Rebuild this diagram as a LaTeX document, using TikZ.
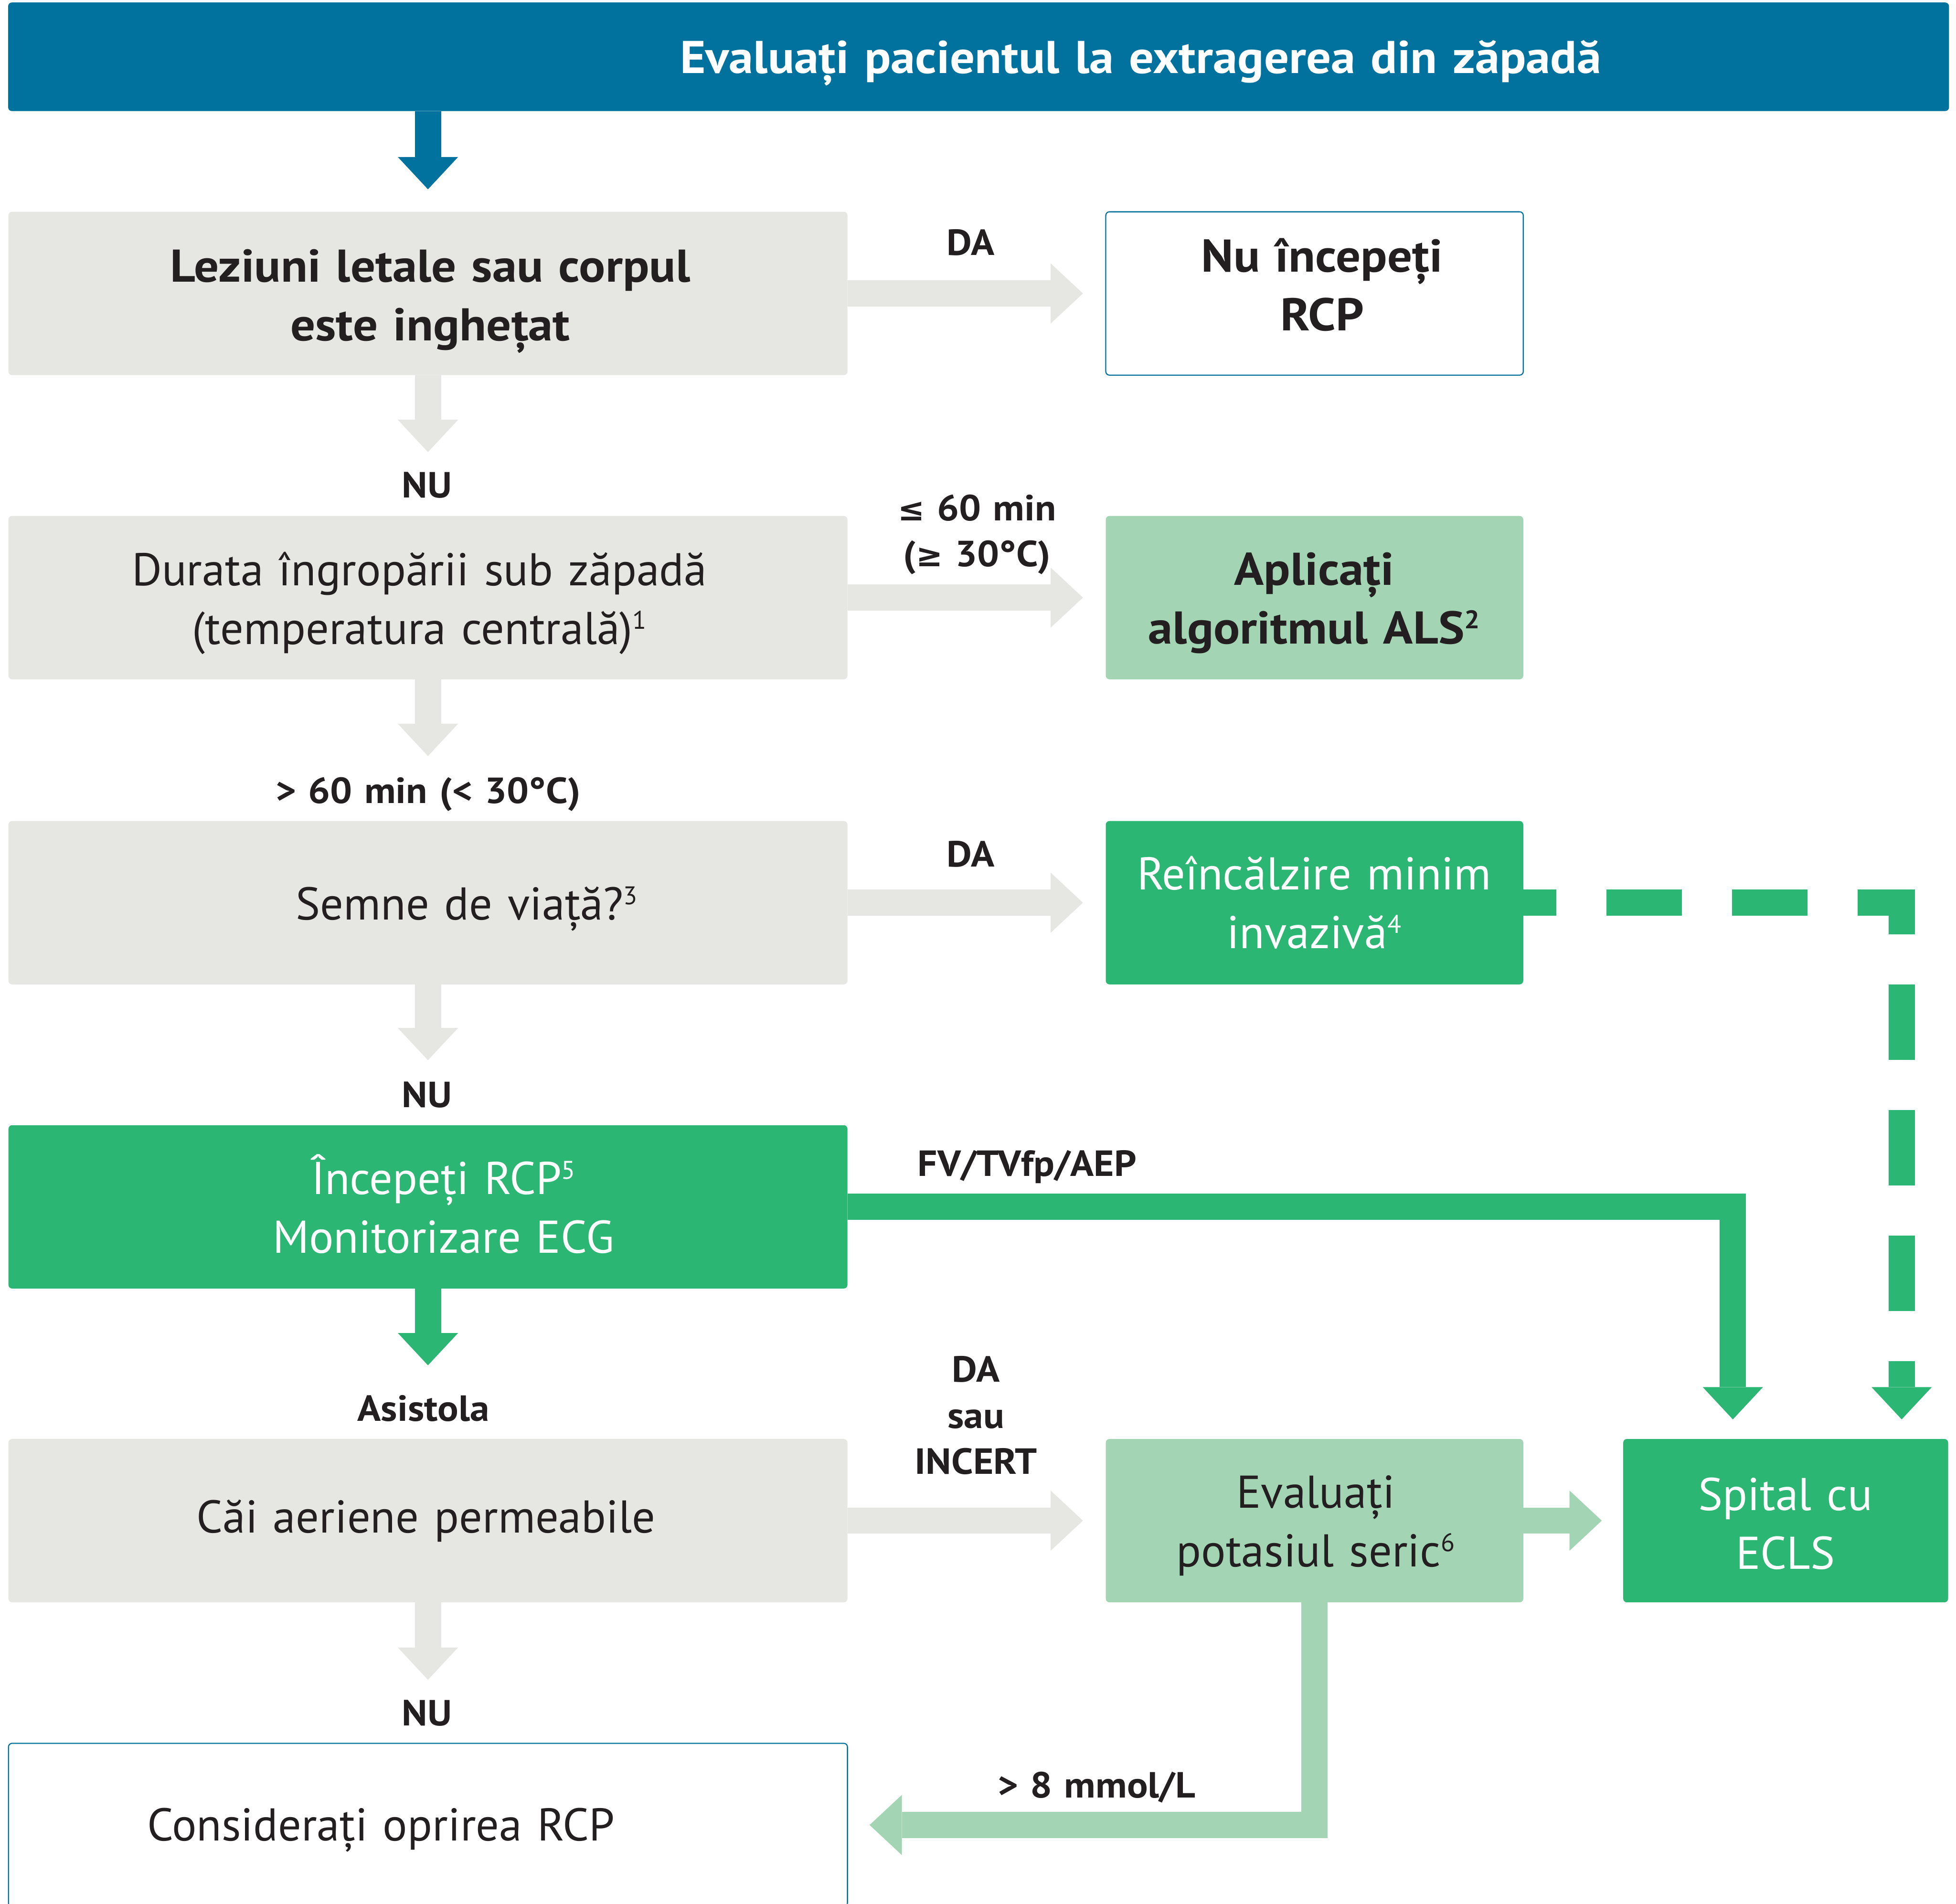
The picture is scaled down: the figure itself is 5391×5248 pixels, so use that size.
\documentclass[tikz,border=0pt]{standalone}
\usepackage{fontspec}
\setmainfont{PT Sans}[BoldFeatures={FakeStretch=1.07}]
\newfontfamily\relsym{DejaVu Sans}[Scale=0.88]
\usetikzlibrary{arrows.meta}
\definecolor{ercblue}{RGB}{0,114,157}
\definecolor{boxgray}{RGB}{230,231,226}
\definecolor{palegreen}{RGB}{163,212,180}
\definecolor{deepgreen}{RGB}{44,182,115}
\definecolor{ink}{RGB}{35,31,32}
% raised footnote numbers inside the boxes
\newcommand{\supnr}[1]{\raisebox{12pt}{\fontsize{20}{20}\selectfont #1}}
% relation signs with a straight bar
\newcommand{\lesym}{{\relsym ≤}}
\newcommand{\gesym}{{\relsym ≥}}

\begin{document}
\begin{tikzpicture}[x=0.01cm, y=-0.01cm,
  box/.style={rectangle, inner sep=0pt, outer sep=0pt, rounded corners=0.1cm, minimum height=4.5cm},
  wide/.style={box, minimum width=23.11cm},
  mid/.style={box, minimum width=11.5cm},
  txt/.style={text width=24cm, align=center, anchor=base, inner sep=0pt,
              font=\fontsize{36}{46}\selectfont, text=ink},
  btxt/.style={txt, font=\bfseries\fontsize{36}{46}\selectfont},
  lbl/.style={txt, text width=12cm, font=\bfseries\fontsize{28.5}{36}\selectfont},
  fat/.style={line width=0.72cm, -{Triangle[length=0.89cm, width=1.66cm, line width=0pt]}},
]
\clip (0,0) rectangle (5391,5248);
\fill[white] (0,0) rectangle (5391,5248);

% header
\node[box, fill=ercblue, minimum width=53.46cm, minimum height=2.99cm] (banner) at (2697,156.5) {};
\node[btxt, text=white, text width=40cm] (bannertext) at (3144,202) {Evaluați pacientul la extragerea din zăpadă};

% left column
\node[wide, fill=boxgray] (b1) at (1179.5,809) {};
\node[wide, fill=boxgray] (b2) at (1179.5,1647.5) {};
\node[wide, fill=boxgray] (b3) at (1179.5,2488.5) {};
\node[wide, fill=deepgreen] (b4) at (1179.5,3327) {};
\node[wide, fill=boxgray] (b5) at (1179.5,4192) {};
\node[wide, fill=white, draw=ercblue, line width=0.03cm] (b6) at (1179.5,5031) {};

% middle column
\node[mid, fill=white, draw=ercblue, line width=0.03cm] (r1) at (3623,809) {};
\node[mid, fill=palegreen] (r2) at (3623,1647.5) {};
\node[mid, fill=deepgreen] (r3) at (3623,2488.5) {};
\node[mid, fill=palegreen] (r5) at (3623,4192) {};

% right column
\node[box, fill=deepgreen, minimum width=8.95cm] (sp) at (4921.5,4192) {};

% box texts
\node[btxt] (t1) at (1186,777) {Leziuni letale sau corpul\\este inghețat};
\node[txt] (t2) at (1156,1614) {Durata îngropării sub zăpadă\\(temperatura centrală)\supnr{1}};
\node[txt] (t3) at (1286,2535) {Semne de viață?\supnr{3}};
\node[txt, text=white] (t4) at (1222,3292) {Începeți RCP\supnr{5}\\Monitorizare ECG};
\node[txt] (t5) at (1174,4225) {Căi aeriene permeabile};
\node[txt] (t6) at (1050,5074) {Considerați oprirea RCP};
\node[btxt] (tr1) at (3644,750) {Nu începeți\\RCP};
\node[btxt] (tr2) at (3622,1613) {Aplicați\\algoritmul ALS\supnr{2}};
\node[txt, text=white] (tr3) at (3622,2453) {Reîncălzire minim\\invazivă\supnr{4}};
\node[txt] (tr5) at (3626,4157) {Evaluați\\potasiul seric\supnr{6}};
\node[txt, text=white] (tsp) at (4921,4164) {Spital cu\\ECLS};

% connector labels
\node[lbl] (l1) at (2675,703) {DA};
\node[lbl] (l2) at (1177,1372) {NU};
\node[lbl] (l3) at (2693,1435) {\lesym{} 60 min\\(\gesym{} 30°C)};
\node[lbl] (l4) at (1180,2214) {> 60 min (< 30°C)};
\node[lbl] (l5) at (2675,2389) {DA};
\node[lbl] (l6) at (1177,3053) {NU};
\node[lbl] (l7) at (2831,3242) {FV/TVfp/AEP};
\node[lbl] (l8) at (1167,3918) {Asistola};
\node[lbl] (l9) at (2690,3810) {DA\\sau\\INCERT};
\node[lbl] (l10) at (1177,4757) {NU};
\node[lbl] (l11) at (3022,4956) {> 8 mmol/L};

% connectors
\draw[fat, ercblue, shorten >=0.62cm] (b1.north |- banner.south) -- (b1.north);
\draw[fat, boxgray, shorten >=0.63cm] (b1.east) -- (r1.west);
\draw[fat, boxgray, shorten >=1.76cm] (b1.south) -- (b2.north);
\draw[fat, boxgray, shorten >=0.63cm] (b2.east) -- (r2.west);
\draw[fat, boxgray, shorten >=1.79cm] (b2.south) -- (b3.north);
\draw[fat, boxgray, shorten >=0.63cm] (b3.east) -- (r3.west);
\draw[fat, boxgray, shorten >=1.79cm] (b3.south) -- (b4.north);
\draw[fat, deepgreen, shorten >=2.03cm] (b4.south) -- (b5.north);
\draw[fat, deepgreen, shorten >=0.54cm] (b4.east) -| ([xshift=-1.455cm]sp.north);
\draw[fat, deepgreen, dash pattern=on 2.08cm off 1.38cm, dash phase=1.17cm, shorten >=0.54cm]
  (r3.east) -| ([xshift=3.195cm]sp.north);
\draw[fat, boxgray, shorten >=0.63cm] (b5.east) -- (r5.west);
\draw[fat, palegreen, shorten >=0.59cm] (r5.east) -- (sp.west);
\draw[fat, boxgray, shorten >=1.75cm] (b5.south) -- (b6.north);
\draw[fat, palegreen, shorten >=0.61cm] (r5.south) |- (b6.east);
\end{tikzpicture}
\end{document}
